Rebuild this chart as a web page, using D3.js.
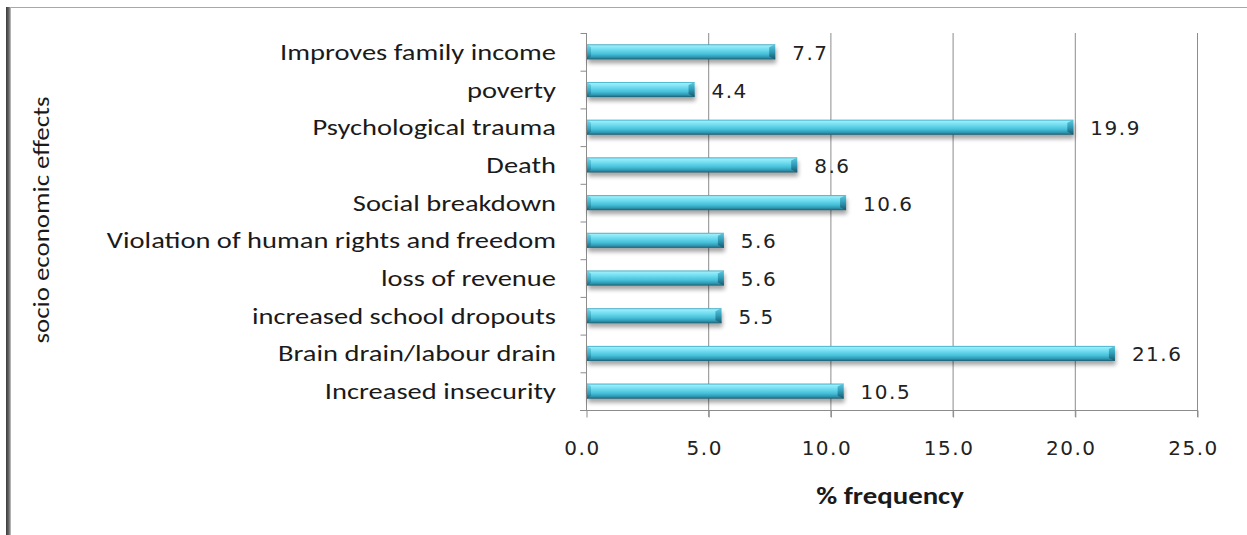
<!DOCTYPE html>
<html>
<head>
<meta charset="utf-8">
<script src="https://cdn.jsdelivr.net/npm/d3@7"></script>
<style>
  html, body { margin: 0; padding: 0; background: #fff; }
  svg { display: block; }
</style>
</head>
<body>
<svg id="chart" width="1247" height="535"></svg>
<script>
// Socio-economic effects, % frequency (top to bottom)
const categories = [
  "Improves family income",
  "poverty",
  "Psychological trauma",
  "Death",
  "Social breakdown",
  "Violation of human rights and freedom",
  "loss of revenue",
  "increased school dropouts",
  "Brain drain/labour drain",
  "Increased insecurity"
];
const values = [7.7, 4.4, 19.9, 8.6, 10.6, 5.6, 5.6, 5.5, 21.6, 10.5];
const xTicks = [0, 5, 10, 15, 20, 25];
const xTitle = "% frequency";
const yTitle = "socio economic effects";

const svg = d3.select("#chart");
const W = 1247, H = 535;
const plot = { left: 586, right: 1197, top: 33, bottom: 410 };

const catFont = "Carlito, Calibri, Lato, 'Open Sans', sans-serif";
const numFont = "'DejaVu Sans', Verdana, sans-serif";
const wide = 1.24; // horizontal stretch of the Calibri-style labels

// frame
svg.append("rect").attr("x", 0).attr("y", 0).attr("width", W).attr("height", H).attr("fill", "#fff");
svg.append("line").attr("x1", 8).attr("x2", W).attr("y1", 7.5).attr("y2", 7.5)
  .attr("stroke", "#a8a8a8").attr("stroke-width", 1);
const defs = svg.append("defs");
const edge = defs.append("linearGradient").attr("id", "edge")
  .attr("x1", 0).attr("x2", 1).attr("y1", 0).attr("y2", 0);
edge.append("stop").attr("offset", "0%").attr("stop-color", "#3a3a3a");
edge.append("stop").attr("offset", "60%").attr("stop-color", "#6a6a6a");
edge.append("stop").attr("offset", "100%").attr("stop-color", "#c8c8c8");
svg.append("rect").attr("x", 6).attr("y", 7).attr("width", 5).attr("height", H - 7).attr("fill", "url(#edge)");

const x = d3.scaleLinear().domain([0, 25]).range([plot.left, plot.right]);
const y = d3.scaleBand().domain(categories).range([plot.top, plot.bottom]).paddingInner(0.6).paddingOuter(0.3);
const band = d3.scaleBand().domain(categories).range([plot.top, plot.bottom]);

const g1 = defs.append("linearGradient").attr("id", "barFill").attr("x1", 0).attr("x2", 0).attr("y1", 0).attr("y2", 1);
[["0%", "#2f9fbc"], ["10%", "#9aeefb"], ["35%", "#6fdcef"], ["65%", "#45bfd9"], ["85%", "#2f97b2"], ["100%", "#1d5f72"]]
  .forEach(([o, c]) => g1.append("stop").attr("offset", o).attr("stop-color", c));
const g2 = defs.append("linearGradient").attr("id", "capFill").attr("x1", 0).attr("x2", 0).attr("y1", 0).attr("y2", 1);
[["0%", "#5fc9de"], ["50%", "#2f9bb6"], ["100%", "#17566a"]]
  .forEach(([o, c]) => g2.append("stop").attr("offset", o).attr("stop-color", c));
const blur = defs.append("filter").attr("id", "shadow").attr("x", "-5%").attr("y", "-50%").attr("width", "110%").attr("height", "200%");
blur.append("feGaussianBlur").attr("stdDeviation", 2);

// gridlines
svg.append("g").selectAll("line").data(xTicks.slice(1)).join("line")
  .attr("x1", d => x(d) + 0.5).attr("x2", d => x(d) + 0.5)
  .attr("y1", plot.top).attr("y2", plot.bottom + 7)
  .attr("stroke", "#8c8c8c").attr("stroke-width", 1);

// x axis
const xAxis = svg.append("g").attr("transform", `translate(0,${plot.bottom + 0.5})`)
  .call(d3.axisBottom(x).tickValues(xTicks).tickFormat(d3.format(".1f")).tickSize(7).tickPadding(0));
xAxis.select(".domain").attr("stroke", "#8c8c8c").attr("d", `M${plot.left - 6},0H${plot.right}`);
xAxis.selectAll(".tick line").attr("stroke", "#8c8c8c").attr("transform", "translate(0.5,0)");
xAxis.selectAll(".tick text").attr("font-family", numFont).attr("font-size", 20).attr("fill", "#222")
  .attr("letter-spacing", 1.5).attr("y", 37).attr("dy", "0.35em").attr("dx", -4);

// y axis
const yAxis = svg.append("g").attr("transform", `translate(${plot.left + 0.5},0)`);
yAxis.append("line").attr("x1", 0).attr("x2", 0).attr("y1", plot.top).attr("y2", plot.bottom)
  .attr("stroke", "#8c8c8c");
const bounds = categories.map(c => band(c));
yAxis.selectAll("line.tk").data(bounds).join("line").attr("class", "tk")
  .attr("x1", -6).attr("x2", 0).attr("y1", d => d + 0.5).attr("y2", d => d + 0.5)
  .attr("stroke", "#8c8c8c");
svg.append("g").selectAll("text").data(categories).join("text")
  .attr("transform", d => `translate(556,${band(d) + band.bandwidth() / 2}) scale(${wide},1)`)
  .attr("text-anchor", "end").attr("dominant-baseline", "central")
  .attr("font-family", catFont).attr("font-size", 23).attr("fill", "#1a1a1a")
  .text(d => d);

// bars
const bars = svg.append("g").selectAll("g").data(categories).join("g");
bars.append("rect")
  .attr("x", x(0) + 2).attr("y", d => y(d) + 4)
  .attr("width", (d, i) => x(values[i]) - x(0)).attr("height", y.bandwidth())
  .attr("fill", "#000").attr("opacity", 0.35).attr("filter", "url(#shadow)");
bars.append("rect")
  .attr("x", x(0) + 1).attr("y", d => y(d))
  .attr("width", (d, i) => x(values[i]) - x(0)).attr("height", y.bandwidth())
  .attr("fill", "url(#barFill)");
bars.append("path")
  .attr("d", (d, i) => {
    const xe = x(values[i]) + 1, y0 = y(d), h = y.bandwidth();
    return `M${xe - 6},${y0 + 3}L${xe},${y0}L${xe},${y0 + h}L${xe - 6},${y0 + h - 3}Z`;
  })
  .attr("fill", "url(#capFill)");
bars.append("path")
  .attr("d", (d, i) => {
    const x0 = x(0) + 1, y0 = y(d), h = y.bandwidth();
    return `M${x0},${y0}L${x0 + 4},${y0 + 3}L${x0 + 4},${y0 + h - 3}L${x0},${y0 + h}Z`;
  })
  .attr("fill", "url(#capFill)").attr("opacity", 0.6);

// value labels
svg.append("g").selectAll("text").data(categories).join("text")
  .attr("x", (d, i) => x(values[i]) + 18).attr("y", d => y(d) + y.bandwidth() / 2 + 1)
  .attr("dominant-baseline", "central")
  .attr("font-family", numFont).attr("font-size", 20).attr("fill", "#222").attr("letter-spacing", 1.5)
  .text((d, i) => d3.format(".1f")(values[i]));

// axis titles
svg.append("text").attr("transform", `translate(890,496) scale(1.2,1)`)
  .attr("text-anchor", "middle").attr("dominant-baseline", "central")
  .attr("font-family", catFont).attr("font-size", 24).attr("font-weight", "bold").attr("fill", "#1a1a1a")
  .text(xTitle);
svg.append("text").attr("transform", `translate(41,220) rotate(-90) scale(1.17,1)`)
  .attr("text-anchor", "middle").attr("dominant-baseline", "central")
  .attr("font-family", catFont).attr("font-size", 23).attr("fill", "#1a1a1a")
  .text(yTitle);
</script>
</body>
</html>
